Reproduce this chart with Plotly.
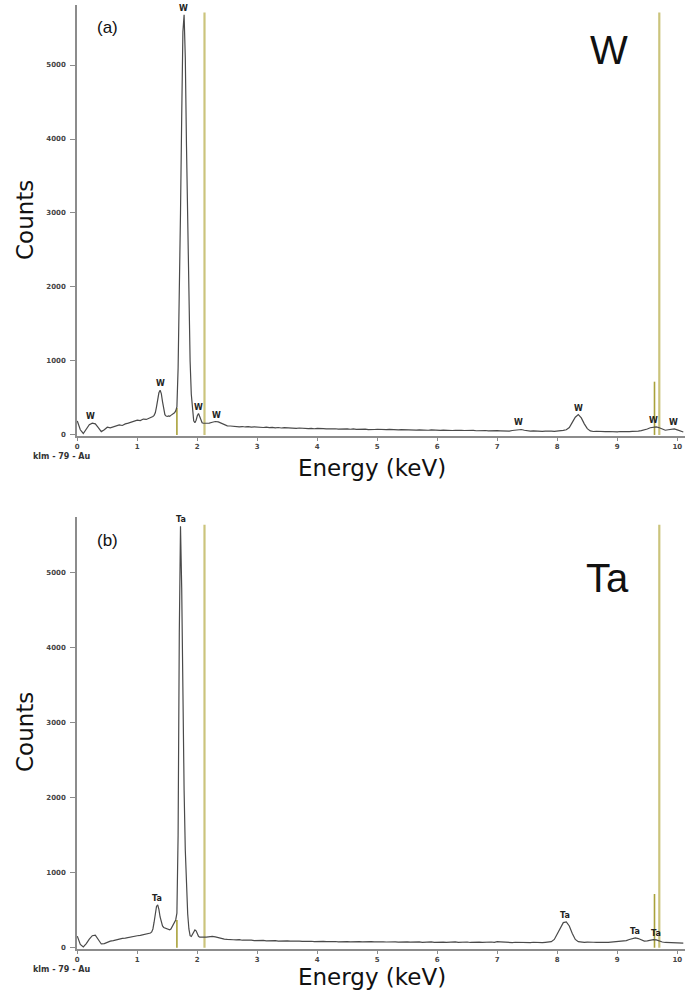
import numpy as np
import plotly.graph_objects as go

# ---------------------------------------------------------------- data
# Energy channels (keV): coarse at low energy, fine across the M-line peaks, coarse above
energy_keV = np.round(np.concatenate([
    np.arange(0.00, 1.151, 0.05),
    np.arange(1.20, 2.101, 0.02),
    np.arange(2.15, 10.101, 0.05),
]), 2)

# EDS counts, tungsten sample (a)
counts_W = [
    # 0.00 - 1.15
    190, 70, 20, 80, 140, 160, 150, 100, 45, 70, 105, 95, 110, 130, 135, 128,
    150, 160, 172, 180, 200, 195, 215, 210,
    # 1.20 - 2.10
    225, 232, 240, 250, 265, 300, 380, 480, 570, 605,
    560, 450, 340, 275, 255, 250, 258, 252, 265, 275,
    285, 300, 325, 380, 900, 1800, 3000, 4300, 5450, 5680,
    5100, 3900, 2700, 1700, 1000, 550, 300, 190, 165, 200,
    260, 290, 250, 190, 165, 158,
    # 2.15 - 10.10
    155, 160, 172, 182, 176, 158, 136, 124, 121, 116,
    119, 110, 114, 108, 113, 106, 110, 104, 107, 101,
    105, 98, 102, 96, 101, 94, 98, 95, 91, 96,
    90, 94, 88, 92, 86, 90, 84, 89, 83, 87,
    82, 86, 80, 84, 79, 83, 78, 81, 77, 82,
    76, 80, 75, 79, 73, 78, 74, 77, 72, 76,
    71, 75, 70, 74, 69, 73, 70, 72, 67, 71,
    66, 70, 65, 69, 64, 68, 63, 67, 62, 66,
    61, 65, 60, 64, 59, 63, 60, 62, 58, 61,
    57, 61, 56, 60, 55, 59, 54, 58, 56, 53,
    57, 52, 60, 68, 76, 74, 64, 55, 51, 54,
    49, 53, 48, 52, 47, 51, 48, 50, 54, 62,
    70, 100, 170, 240, 275, 230, 150, 85, 55, 47,
    50, 45, 49, 44, 47, 43, 46, 42, 47, 44,
    48, 44, 49, 47, 52, 58, 66, 80, 98, 108,
    110, 98, 78, 64, 70, 80, 82, 68, 52, 40,
]

# EDS counts, tantalum sample (b)
counts_Ta = [
    # 0.00 - 1.15
    155, 45, 10, 55, 115, 160, 168, 105, 50, 55, 75, 88, 95, 108, 112, 125,
    128, 138, 142, 150, 160, 165, 176, 182,
    # 1.20 - 2.10
    188, 196, 210, 250, 340, 460, 550, 570, 510, 410,
    330, 290, 270, 262, 258, 250, 245, 240, 250, 280,
    310, 340, 370, 460, 1500, 4200, 5620, 4800, 3300, 2100,
    1300, 800, 450, 250, 160, 150, 175, 215, 238, 225,
    185, 152, 140, 138, 136, 140,
    # 2.15 - 10.10
    142, 148, 150, 145, 132, 120, 115, 110, 112, 106,
    104, 108, 100, 103, 97, 101, 95, 99, 94, 97,
    92, 96, 90, 94, 89, 93, 88, 91, 87, 90,
    86, 89, 84, 88, 83, 86, 82, 85, 81, 84,
    80, 84, 79, 83, 78, 82, 77, 81, 79, 83,
    78, 82, 77, 80, 76, 81, 77, 80, 75, 79,
    76, 80, 74, 78, 75, 79, 73, 78, 74, 77,
    73, 77, 72, 76, 74, 78, 72, 76, 71, 75,
    72, 76, 73, 77, 71, 75, 72, 76, 70, 74,
    71, 75, 70, 74, 72, 76, 71, 80, 78, 74,
    70, 74, 69, 73, 71, 75, 70, 74, 69, 73,
    70, 74, 68, 72, 75, 80, 110, 180, 270, 335,
    345, 290, 190, 110, 80, 72, 70, 74, 69, 73,
    70, 74, 68, 72, 70, 74, 71, 75, 78, 85,
    95, 110, 125, 130, 122, 100, 88, 92, 102, 108,
    104, 88, 76, 70, 68, 72, 66, 70, 64, 62,
]

assert len(energy_keV) == len(counts_W) == len(counts_Ta)

# Peak identification labels (keV)
peaks_W_keV = [0.22, 1.38, 1.77, 2.02, 2.32, 7.35, 8.35, 9.60, 9.93]
peaks_Ta_keV = [1.33, 1.72, 8.12, 9.30, 9.65]

# Vertical marker lines (keV) and their heights (counts) in each panel
marker_keV = [1.66, 2.12, 9.62, 9.70]
marker_top_W = [365, 5710, 720, 5710]
marker_top_Ta = [370, 5640, 716, 5640]
marker_tall = [False, True, False, True]

x_ticks = list(range(0, 11))
y_ticks = [0, 1000, 2000, 3000, 4000, 5000]

# ---------------------------------------------------------------- layout geometry
FIG_W, FIG_H = 686, 994
ML, MR, MT, MB = 77, 1, 5, 45
PW, PH = FIG_W - ML - MR, FIG_H - MT - MB


def px(x):
    return (x - ML) / PW


def py(y):
    return (FIG_H - MB - y) / PH


AXIS_GREY = "#8c8c8c"
LINE_DARK = "#4a4a4a"
TICK_FONT = dict(family="DejaVu Sans", size=7, color="#454545", weight="bold")

fig = go.Figure()

panels = [
    ("x", "y", counts_W, marker_top_W, peaks_W_keV, "W"),
    ("x2", "y2", counts_Ta, marker_top_Ta, peaks_Ta_keV, "Ta"),
]

for xa, ya, counts, mtops, peaks, sym in panels:
    # marker lines
    for e, top, tall in zip(marker_keV, mtops, marker_tall):
        fig.add_trace(go.Scatter(
            x=[e, e], y=[0, top], mode="lines", xaxis=xa, yaxis=ya,
            line=dict(color="#cbc47c" if tall else "#a9a13a", width=2.2 if tall else 1.6),
            hoverinfo="skip", showlegend=False,
        ))
    # spectrum
    fig.add_trace(go.Scatter(
        x=energy_keV, y=counts, mode="lines", xaxis=xa, yaxis=ya,
        line=dict(color=LINE_DARK, width=1.2),
        showlegend=False,
    ))
    # peak labels sitting on the local maximum of the spectrum
    c = np.asarray(counts)
    for e in peaks:
        win = np.abs(energy_keV - e) <= 0.05
        fig.add_annotation(
            x=e, y=float(c[win].max()), xref=xa, yref=ya, text=sym,
            showarrow=False, yanchor="bottom", xanchor="center", yshift=0,
            font=dict(family="DejaVu Sans", size=8, color="#222", weight="bold"),
        )

axis_common = dict(
    showline=True, linecolor=AXIS_GREY, linewidth=1.6,
    ticks="outside", tickcolor=AXIS_GREY, tickwidth=1.2,
    showgrid=False, zeroline=False, tickfont=TICK_FONT, fixedrange=True,
)

x_range = [(ML - 77.3) / 60.0, (FIG_W - MR - 77.3) / 60.0]

fig.update_layout(
    width=FIG_W, height=FIG_H,
    margin=dict(l=ML, r=MR, t=MT, b=MB, pad=0),
    paper_bgcolor="white", plot_bgcolor="white",
    xaxis=dict(axis_common, domain=[0, 1], range=x_range, tickvals=x_ticks,
               ticklen=3, anchor="y"),
    yaxis=dict(axis_common, domain=[py(436), 1.0], range=[-14, 5811],
               tickvals=y_ticks, ticklen=5, ticklabelstandoff=3, anchor="x"),
    xaxis2=dict(axis_common, domain=[0, 1], range=x_range, tickvals=x_ticks,
                ticklen=3, anchor="y2"),
    yaxis2=dict(axis_common, domain=[0.0, py(517)], range=[-17, 5742],
                tickvals=y_ticks, ticklen=5, ticklabelstandoff=3, anchor="x2"),
)

TITLE_FONT = dict(family="DejaVu Sans", size=23, color="#111")


def paper_text(text, x, y, font, angle=0):
    fig.add_annotation(
        x=px(x), y=py(y), xref="paper", yref="paper", text=text,
        showarrow=False, xanchor="center", yanchor="middle",
        textangle=angle, font=font,
    )


for dy, tag, elem in [(0, "(a)", "W"), (512, "(b)", "Ta")]:
    paper_text("Counts", 25, 220 + dy, TITLE_FONT, angle=-90)
    paper_text("Energy (keV)", 372, 468 + dy - (3 if dy else 0), TITLE_FONT)
    paper_text(tag, 107, 28 + dy, dict(family="Liberation Sans", size=17, color="#111"))
    paper_text(elem, 609 if elem == "W" else 607, 50 + dy + (16 if dy else 0),
               dict(family="Liberation Sans", size=40, color="#111"))
    paper_text("klm - 79 - Au", 62, 457 + dy,
               dict(family="DejaVu Sans", size=8, color="#333", weight="bold"))

fig.write_html("out.html")
